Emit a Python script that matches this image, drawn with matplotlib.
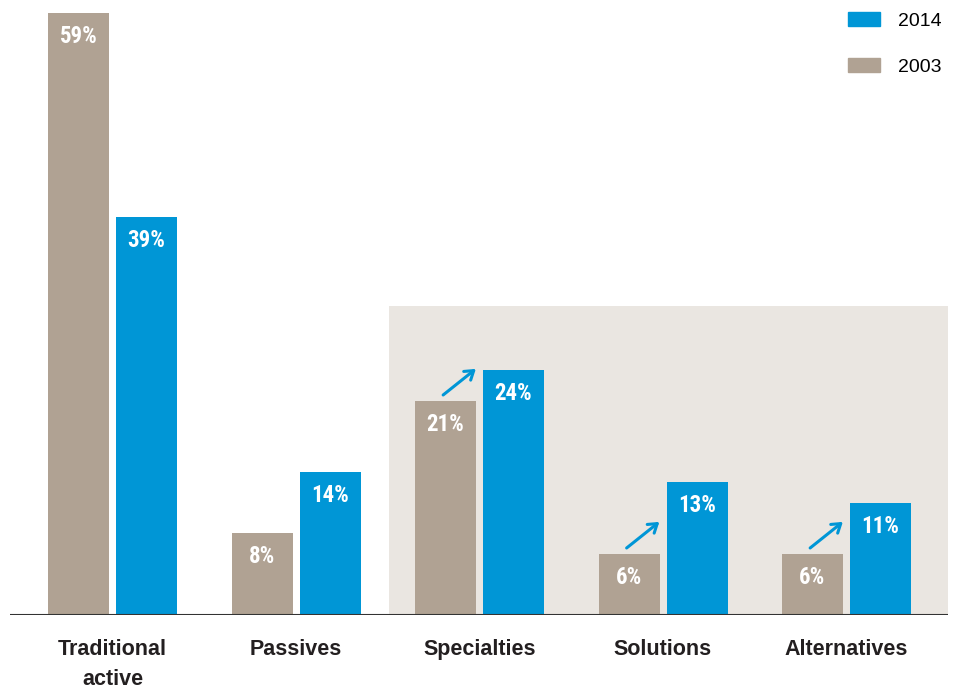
import matplotlib
matplotlib.use("Agg")
import matplotlib.pyplot as plt
from matplotlib.patches import Rectangle, Patch
from matplotlib import font_manager

categories = ["Traditional\nactive", "Passives", "Specialties", "Solutions", "Alternatives"]
share_2003 = [59, 8, 21, 6, 6]
share_2014 = [39, 14, 24, 13, 11]
growth_groups = ["Specialties", "Solutions", "Alternatives"]

tan = "#B0A293"
blue = "#0096D6"
shade = "#EAE6E1"

plt.rcParams["font.family"] = ["Liberation Sans", "DejaVu Sans"]

# narrow face for the value labels if one is installed
names = {f.name for f in font_manager.fontManager.ttflist}
narrow = None
for n in ["Liberation Sans Narrow", "DejaVu Sans Condensed", "Roboto Condensed"]:
    if n in names:
        narrow = n
        break
if narrow is None:
    narrow = "Liberation Sans"

fig = plt.figure(figsize=(9.62, 6.89), dpi=100)
ax = fig.add_axes([0, 74 / 689, 1, 615 / 689])
ax.set_xlim(-112.5 / 183.5, (962 - 112.5) / 183.5)
ax.set_ylim(0, 615 / 10.2)
ax.axis("off")

x = list(range(len(categories)))
w = 61 / 183.5
off = 34 / 183.5

# shaded panel behind the three growing segments
ax.add_patch(Rectangle((1.507, 0), 4.553 - 1.507, 30.3, color=shade, zorder=0, lw=0))

ax.bar([i - off for i in x], share_2003, w, color=tan, zorder=2)
ax.bar([i + off for i in x], share_2014, w, color=blue, zorder=2)

lab = dict(ha="center", va="center", color="white", fontsize=16.5,
           fontweight="bold", family=narrow, fontstretch="condensed", zorder=3)
for i, (a, b) in enumerate(zip(share_2003, share_2014)):
    ax.text(i - off, a - 2.3, f"{a}%", **lab)
    ax.text(i + off, b - 2.3, f"{b}%", **lab)
    # one text per line so every first line sits on the same baseline
    for k, line in enumerate(categories[i].split("\n")):
        ax.text(i, -3.92 - 2.94 * k, line, ha="center", va="baseline", fontsize=15.5,
                fontweight="bold", color="#231f20", clip_on=False)

for i, c in enumerate(categories):
    if c in growth_groups:
        y0 = share_2003[i] + 0.4
        ax.annotate("", xy=(i - 0.008, y0 + 2.9), xytext=(i - 0.21, y0),
                    arrowprops=dict(arrowstyle="->,head_length=0.6,head_width=0.4",
                                    color=blue, lw=2.2), zorder=4)

# baseline
ax.plot([-0.558, 4.553], [0, 0], color="#333333", lw=1.5, zorder=3,
        solid_capstyle="butt")

handles = [Patch(color=blue, label="2014"), Patch(color=tan, label="2003")]
fig.legend(handles=handles, loc="upper left", bbox_to_anchor=(844 / 962, 1 - 8 / 689),
           frameon=False, fontsize=14, handlelength=1.65, handleheight=0.75,
           handletextpad=0.95, labelspacing=1.45, borderaxespad=0, borderpad=0.2)

fig.savefig("out.png", dpi=100)
